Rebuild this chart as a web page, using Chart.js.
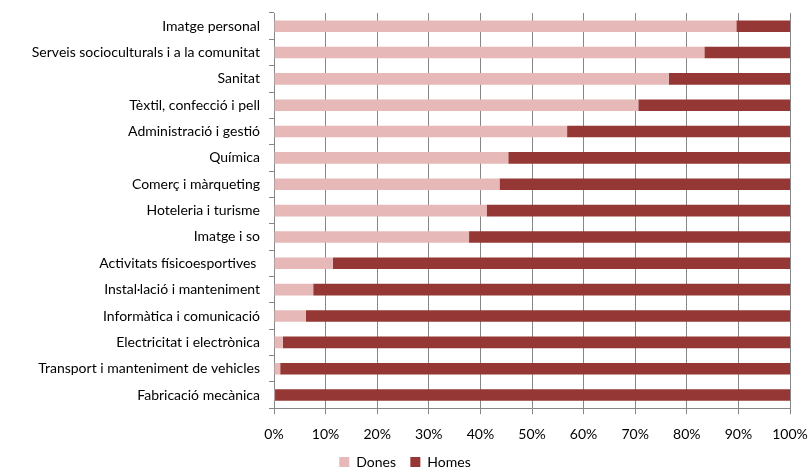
<html>
<head>
    <title>Dones i homes per família professional</title>
    <script src="https://cdn.jsdelivr.net/npm/chart.js"></script>
    <style>
        body {
            margin: 0;
            background: white;
        }
        .wrap {
            width: 810px;
            height: 469px;
        }
    </style>
</head>
<body>
    <div class="wrap">
        <canvas id="genderChart"></canvas>
    </div>
    <script>
        const families = [
            'Imatge personal',
            'Serveis socioculturals i a la comunitat',
            'Sanitat',
            'Tèxtil, confecció i pell',
            'Administració i gestió',
            'Química',
            'Comerç i màrqueting',
            'Hoteleria i turisme',
            'Imatge i so',
            'Activitats físicoesportives ',
            'Instal·lació i manteniment',
            'Informàtica i comunicació',
            'Electricitat i electrònica',
            'Transport i manteniment de vehicles',
            'Fabricació mecànica'
        ];
        // percentage of women per family
        const dones = [89.6, 83.4, 76.5, 70.6, 56.8, 45.4, 43.7, 41.2, 37.8, 11.4, 7.6, 6.2, 1.7, 1.2, 0.2];
        const homes = dones.map(d => +(100 - d).toFixed(1));
        const xTicks = [0, 10, 20, 30, 40, 50, 60, 70, 80, 90, 100];

        const gridGrey = '#868686';
        const labelFont = { family: 'Lato', size: 14 };

        const ctx = document.getElementById('genderChart').getContext('2d');
        new Chart(ctx, {
            type: 'bar',
            data: {
                labels: families,
                datasets: [
                    {
                        label: 'Dones',
                        data: dones,
                        backgroundColor: '#E6B9B8'
                    },
                    {
                        label: 'Homes',
                        data: homes,
                        backgroundColor: '#953735'
                    }
                ]
            },
            options: {
                indexAxis: 'y',
                responsive: true,
                maintainAspectRatio: false,
                animation: false,
                categoryPercentage: 1,
                barPercentage: 0.44,
                layout: {
                    // legend sits low, almost on the bottom edge
                    padding: { top: 13, right: 0, left: 0, bottom: -10 }
                },
                scales: {
                    x: {
                        stacked: true,
                        min: 0,
                        max: 100,
                        afterBuildTicks: axis => {
                            axis.ticks = xTicks.map(v => ({ value: v }));
                        },
                        afterFit: axis => {
                            axis.paddingRight = 20;
                        },
                        ticks: {
                            color: '#000',
                            font: labelFont,
                            padding: 12,
                            maxRotation: 0,
                            callback: v => v + '%'
                        },
                        grid: {
                            color: gridGrey,
                            tickLength: 6
                        },
                        border: { color: gridGrey }
                    },
                    y: {
                        stacked: true,
                        afterFit: axis => {
                            axis.width = 274;
                            axis.paddingTop = 0;
                            axis.paddingBottom = 0;
                        },
                        ticks: {
                            color: '#000',
                            font: labelFont,
                            padding: 9
                        },
                        grid: {
                            drawOnChartArea: false,
                            color: gridGrey,
                            tickLength: 5
                        },
                        border: { color: gridGrey }
                    }
                },
                plugins: {
                    legend: {
                        position: 'bottom',
                        labels: {
                            color: '#000',
                            font: labelFont,
                            boxWidth: 10,
                            boxHeight: 10,
                            padding: 0,
                            // gap between the two entries
                            generateLabels: chart =>
                                Chart.defaults.plugins.legend.labels.generateLabels(chart)
                                    .map((item, i) => i === 0 ? { ...item, text: item.text + '    ' } : item)
                        }
                    },
                    tooltip: { enabled: false }
                }
            }
        });
    </script>
</body>
</html>
